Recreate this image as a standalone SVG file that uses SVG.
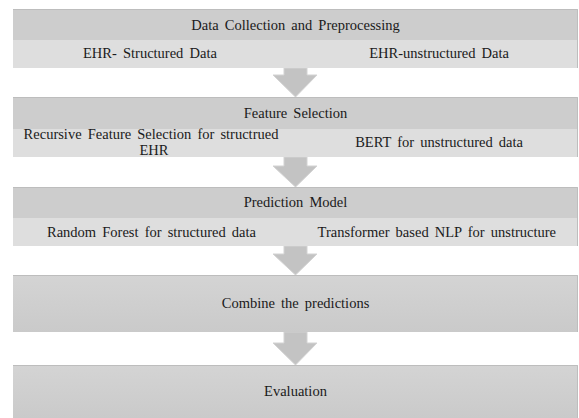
<svg xmlns="http://www.w3.org/2000/svg" width="579" height="418" viewBox="0 0 579 418">
<defs>
<style>
.hd{fill:#cdcdcd;}
.sb{fill:#dedede;}
.edge{fill:none;stroke:#bdbdbd;stroke-width:1;}
.ar{fill:#c3c3c3;stroke:#d3d3d3;stroke-width:1;}
.t{font-size:14.5px;fill:#1a1a1a;word-spacing:2.5px;}
.c{text-anchor:middle;}
.e{text-anchor:end;}
</style>
<linearGradient id="g" x1="0" y1="0" x2="0" y2="1">
<stop offset="0" stop-color="#d4d4d4"/>
<stop offset="1" stop-color="#cacaca"/>
</linearGradient>
</defs>
<rect width="579" height="418" fill="#ffffff"/>
<g id="connectors">
<polygon class="ar" points="284,68 307,68 307,75 317,75 295.5,97 273,75 284,75"/>
<polygon class="ar" points="284,157 307,157 307,166 317,166 295.5,187 273,166 284,166"/>
<polygon class="ar" points="284,246 307,246 307,254 317,254 295.5,275 273,254 284,254"/>
<polygon class="ar" points="284,332 307,332 307,343 317,343 295.5,365 273,343 284,343"/>
</g>
<g font-family="Liberation Serif, Times New Roman, serif">
<g id="node1">
<rect class="hd" x="13" y="9" width="565" height="31"/>
<rect class="sb" x="13" y="40" width="565" height="28"/>
<path class="edge" d="M13,9.5 H577.5 V68"/>
<text class="t c" x="295.5" y="29.5">Data Collection and Preprocessing</text>
<text class="t" x="83" y="58">EHR- Structured Data</text>
<text class="t e" x="509" y="58">EHR-unstructured Data</text>
</g>
<g id="node2">
<rect class="hd" x="13" y="97" width="565" height="32"/>
<rect class="sb" x="13" y="129" width="565" height="28"/>
<path class="edge" d="M13,97.5 H577.5 V157"/>
<text class="t c" x="295.5" y="118">Feature Selection</text>
<text class="t c" x="151" y="139">Recursive Feature Selection for structrued</text>
<text class="t c" x="154" y="155">EHR</text>
<text class="t e" x="523" y="147">BERT for unstructured data</text>
</g>
<g id="node3">
<rect class="hd" x="13" y="187" width="565" height="31"/>
<rect class="sb" x="13" y="218" width="565" height="28"/>
<path class="edge" d="M13,187.5 H577.5 V246"/>
<text class="t c" x="295.5" y="207">Prediction Model</text>
<text class="t" x="47" y="237">Random Forest for structured data</text>
<text class="t e" x="556" y="237">Transformer based NLP for unstructure</text>
</g>
<g id="node4">
<rect x="13" y="275" width="565" height="57" fill="url(#g)"/>
<path class="edge" d="M13,275.5 H577.5 V332"/>
<text class="t c" x="295.5" y="308">Combine the predictions</text>
</g>
<g id="node5">
<rect x="13" y="365" width="565" height="53" fill="url(#g)"/>
<path class="edge" d="M13,365.5 H577.5 V418"/>
<text class="t c" x="295.5" y="396">Evaluation</text>
</g>
</g>
</svg>
